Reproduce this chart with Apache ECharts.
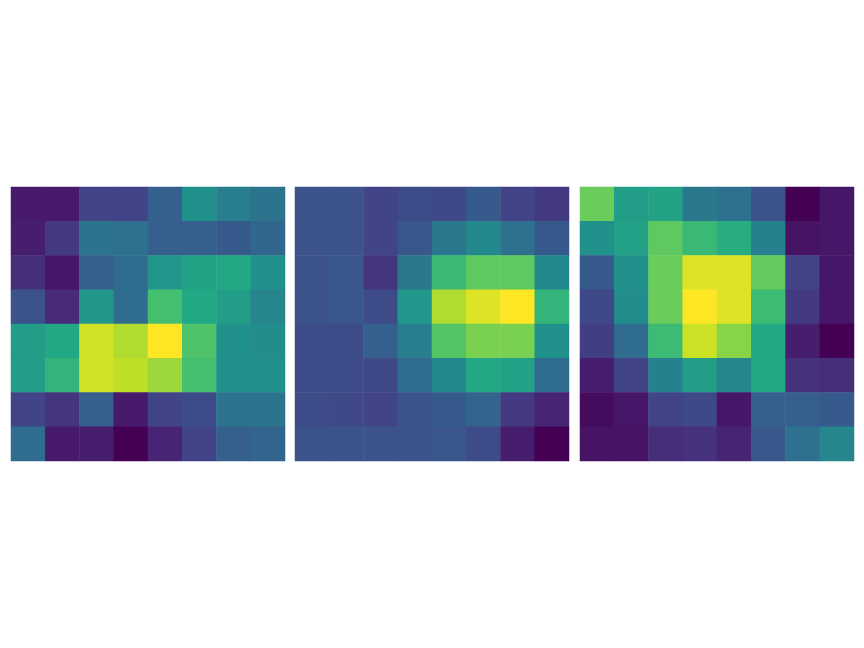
<!DOCTYPE html>
<html><head><meta charset="utf-8">
<script src="https://cdn.jsdelivr.net/npm/echarts@6/dist/echarts.min.js"></script>
<style>html,body{margin:0;padding:0;background:#fff}#c{width:864px;height:648px}</style>
</head><body><div id="c"></div>
<script>
var cols = ['0','1','2','3','4','5','6','7'];
var rows = ['0','1','2','3','4','5','6','7'];
// rows listed top to bottom, normalized values 0..1
var panelA = [
 [0.07,0.07,0.20,0.20,0.30,0.50,0.42,0.38],
 [0.08,0.17,0.38,0.37,0.30,0.30,0.28,0.33],
 [0.13,0.06,0.30,0.35,0.52,0.58,0.60,0.50],
 [0.25,0.12,0.53,0.35,0.70,0.60,0.55,0.45],
 [0.55,0.60,0.93,0.88,1.00,0.72,0.50,0.48],
 [0.55,0.65,0.93,0.90,0.85,0.70,0.50,0.50],
 [0.20,0.15,0.30,0.07,0.20,0.23,0.38,0.38],
 [0.35,0.07,0.08,0.00,0.10,0.20,0.30,0.32]
];
var panelB = [
 [0.25,0.25,0.20,0.23,0.22,0.28,0.20,0.17],
 [0.25,0.25,0.20,0.27,0.40,0.47,0.37,0.28],
 [0.25,0.27,0.15,0.40,0.67,0.75,0.75,0.47],
 [0.25,0.27,0.23,0.52,0.88,0.95,1.00,0.65],
 [0.23,0.23,0.30,0.42,0.73,0.80,0.80,0.50],
 [0.23,0.23,0.22,0.35,0.47,0.60,0.57,0.35],
 [0.23,0.22,0.20,0.25,0.28,0.32,0.17,0.10],
 [0.25,0.25,0.25,0.25,0.27,0.23,0.08,0.00]
];
var panelC = [
 [0.77,0.55,0.58,0.40,0.37,0.25,0.00,0.06],
 [0.50,0.57,0.75,0.67,0.62,0.43,0.05,0.06],
 [0.28,0.50,0.77,0.95,0.95,0.76,0.20,0.06],
 [0.22,0.48,0.77,1.00,0.95,0.68,0.17,0.06],
 [0.18,0.35,0.68,0.92,0.82,0.60,0.08,0.00],
 [0.08,0.20,0.43,0.55,0.45,0.60,0.14,0.13],
 [0.03,0.06,0.20,0.22,0.06,0.30,0.30,0.28],
 [0.05,0.05,0.13,0.14,0.10,0.27,0.37,0.45]
];
var viridis = ['#440154','#482475','#414487','#355f8d','#2a788e','#21918c','#22a884','#44bf70','#7ad151','#bddf26','#fde725'];
function toData(m){var d=[];for(var r=0;r<m.length;r++)for(var c=0;c<m[r].length;c++)d.push([c,r,m[r][c]]);return d;}
var panels=[panelA,panelB,panelC];
var lefts=[11,295,580];
var grids=[],xs=[],ys=[],series=[],vms=[];
for(var i=0;i<3;i++){
  grids.push({left:lefts[i],top:187,width:274,height:274});
  xs.push({type:'category',data:cols,gridIndex:i,show:false});
  ys.push({type:'category',data:rows,gridIndex:i,show:false,inverse:true});
  series.push({type:'heatmap',xAxisIndex:i,yAxisIndex:i,data:toData(panels[i]),itemStyle:{borderWidth:0},emphasis:{disabled:true},progressive:0});
  vms.push({type:'continuous',seriesIndex:i,min:0,max:1,show:false,inRange:{color:viridis}});
}
var chart=echarts.init(document.getElementById('c'),null,{renderer:'canvas'});
chart.setOption({animation:false,grid:grids,xAxis:xs,yAxis:ys,visualMap:vms,series:series});
</script></body></html>
